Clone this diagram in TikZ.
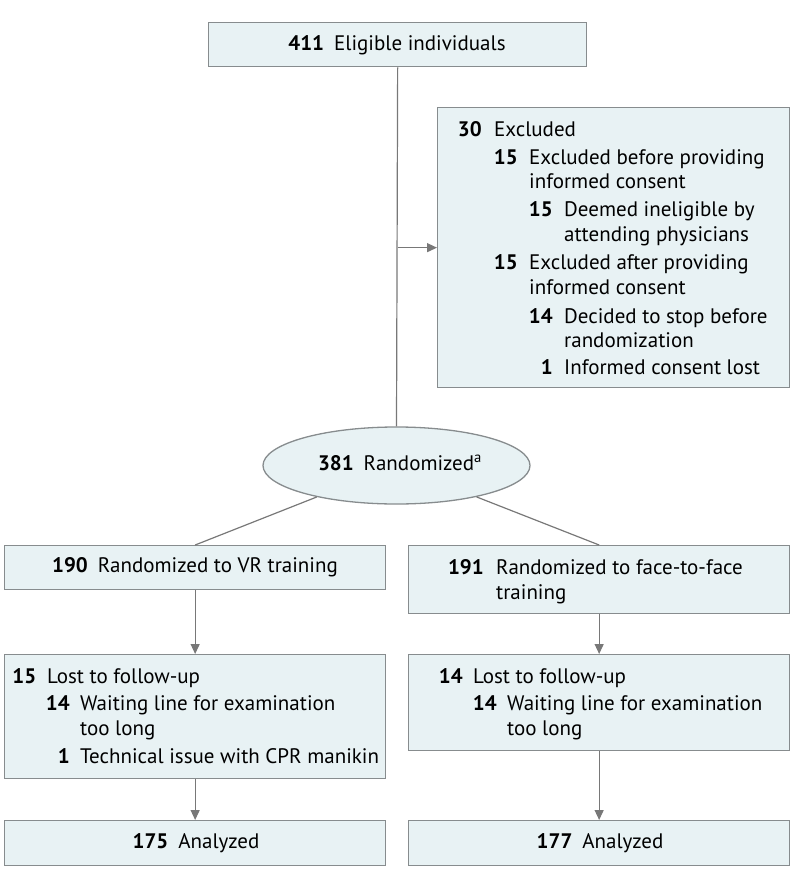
\documentclass[tikz,border=0pt]{standalone}
\usepackage{fontspec}
\setmainfont{PT Sans}
\usetikzlibrary{shapes.geometric,arrows.meta}
\definecolor{boxfill}{RGB}{232,242,244}
\definecolor{boxline}{RGB}{135,140,142}
\definecolor{conn}{RGB}{120,120,120}
\newcommand\flrow[6]{%
  \node[txt,anchor=base east,font=\fontsize{21}{25}\selectfont\bfseries] (#1n) at (#2,#4) {#5};
  \node[txt,anchor=base west] (#1t) at (#3,#4) {#6};}
\begin{document}
\begin{tikzpicture}[x=1pt,y=-1pt,
  box/.style={draw=boxline,fill=boxfill,line width=1.3pt,inner sep=0pt,anchor=north west},
  txt/.style={inner sep=0pt,font=\fontsize{21}{25}\selectfont,text=black},
  conline/.style={draw=conn,line width=1.2pt},
  arr/.style={conline,-{Triangle[length=10pt,width=9pt]}}]
\useasboundingbox (0,0) rectangle (794,881);
% boxes
\node[box,minimum width=378pt,minimum height=44pt] (top) at (208,22) {};
\node[box,minimum width=352pt,minimum height=280pt] (excl) at (437,107) {};
\node[draw=boxline,fill=boxfill,line width=1.3pt,ellipse,inner sep=0pt,minimum width=267pt,minimum height=77pt] (ell) at (396.5,465.5) {};
\node[box,minimum width=381pt,minimum height=44pt] (lbox) at (4,545) {};
\node[box,minimum width=381pt,minimum height=68pt] (rbox) at (408,545) {};
\node[box,minimum width=381pt,minimum height=124pt] (llost) at (4,654) {};
\node[box,minimum width=381pt,minimum height=96pt] (rlost) at (408,654) {};
\node[box,minimum width=381pt,minimum height=45pt] (lana) at (4,820) {};
\node[box,minimum width=381pt,minimum height=45pt] (rana) at (408,820) {};
% connectors
\draw[conline] (top.south) -- (ell.north);
\draw[arr] (excl.west -| top.south) -- (excl.west);
\draw[conline] (ell) -- (lbox.north);
\draw[conline] (ell) -- (rbox.north);
\draw[arr] (lbox.south) -- (llost.north);
\draw[arr] (rbox.south) -- (rlost.north);
\draw[arr] (llost.south) -- (lana.north);
\draw[arr] (rlost.south) -- (rana.north);
% texts
\node[txt] (toptxt) at (397,45) {\textbf{411}\hspace{10pt}Eligible individuals};
\node[txt] (elltxt) at (400,463) {\textbf{381}\hspace{10pt}Randomized\textsuperscript{a}};
\flrow{e0}{482}{494}{136}{30}{Excluded}
\flrow{e1}{518}{529}{164}{15}{Excluded before providing}
\node[txt,anchor=base west] (e1b) at (529,188) {informed consent};
\flrow{e2}{553}{564}{216}{15}{Deemed ineligible by}
\node[txt,anchor=base west] (e2b) at (564,241) {attending physicians};
\flrow{e3}{518}{529}{269}{15}{Excluded after providing}
\node[txt,anchor=base west] (e3b) at (529,294) {informed consent};
\flrow{e4}{553}{564}{323}{14}{Decided to stop before}
\node[txt,anchor=base west] (e4b) at (564,347) {randomization};
\flrow{e5}{553}{564}{374}{1}{Informed consent lost}
\node[txt] (lboxtxt) at (195,567) {\textbf{190}\hspace{10pt}Randomized to VR training};
\flrow{r0}{484}{496}{574}{191}{Randomized to face-to-face}
\node[txt,anchor=base west] (r0b) at (496,599) {training};
\flrow{l0}{36.5}{47}{683}{15}{Lost to follow-up}
\flrow{l1}{70}{80}{710}{14}{Waiting line for examination}
\node[txt,anchor=base west] (l1b) at (80,735) {too long};
\flrow{l2}{70}{80}{763}{1}{Technical issue with CPR manikin}
\flrow{q0}{463}{473}{683}{14}{Lost to follow-up}
\flrow{q1}{497}{507}{710}{14}{Waiting line for examination}
\node[txt,anchor=base west] (q1b) at (507,735) {too long};
\node[txt] (lanatxt) at (196,843) {\textbf{175}\hspace{10pt}Analyzed};
\node[txt] (ranatxt) at (600,843) {\textbf{177}\hspace{10pt}Analyzed};
\end{tikzpicture}
\end{document}
